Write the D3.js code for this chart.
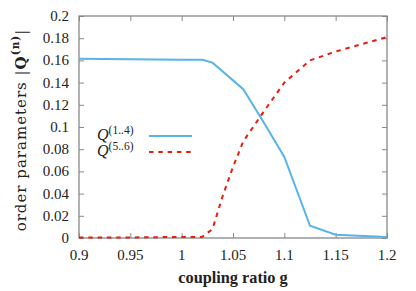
<!DOCTYPE html>
<html>
<head>
<meta charset="utf-8">
<script src="https://cdn.jsdelivr.net/npm/d3@7"></script>
<style>
  body { margin: 0; background: #fff; }
  text { font-family: "Liberation Serif", "DejaVu Serif", serif; }
</style>
</head>
<body>
<svg id="chart" width="416" height="291"></svg>
<script>
// coupling ratio g
const gValues = [0.9, 0.95, 1.0, 1.02, 1.03, 1.04, 1.05, 1.06, 1.08, 1.1, 1.125, 1.15, 1.2];
// |Q(1..4)|
const q14 = [0.1615, 0.161, 0.1605, 0.1605, 0.158, 0.150, 0.142, 0.134, 0.104, 0.073, 0.011, 0.003, 0.001];
// |Q(5..6)|
const q56 = [0.0005, 0.0005, 0.001, 0.001, 0.008, 0.038, 0.064, 0.087, 0.114, 0.14, 0.16, 0.168, 0.181];

const xTicks = [0.9, 0.95, 1, 1.05, 1.1, 1.15, 1.2];
const yTicks = [0, 0.02, 0.04, 0.06, 0.08, 0.1, 0.12, 0.14, 0.16, 0.18, 0.2];

const W = 416, H = 291;
const m = { top: 16, right: 29, bottom: 53, left: 79 };

const svg = d3.select("#chart");

const x = d3.scaleLinear().domain([0.9, 1.2]).range([m.left, W - m.right]);
const y = d3.scaleLinear().domain([0, 0.2]).range([H - m.bottom, m.top]);

const axisColor = "#888";
const fmt = d => String(+d.toFixed(2));

// ticks on all four sides, pointing inward
const gBottom = svg.append("g").attr("transform", `translate(0,${H - m.bottom})`)
  .call(d3.axisTop(x).tickValues(xTicks).tickSize(5).tickFormat(""));
const gTop = svg.append("g").attr("transform", `translate(0,${m.top})`)
  .call(d3.axisBottom(x).tickValues(xTicks).tickSize(5).tickFormat(""));
const gLeft = svg.append("g").attr("transform", `translate(${m.left},0)`)
  .call(d3.axisRight(y).tickValues(yTicks).tickSize(5).tickFormat(""));
const gRight = svg.append("g").attr("transform", `translate(${W - m.right},0)`)
  .call(d3.axisLeft(y).tickValues(yTicks).tickSize(5).tickFormat(""));
[gBottom, gTop, gLeft, gRight].forEach(g => {
  g.selectAll(".domain").remove();
  g.selectAll("line").attr("stroke", axisColor).attr("stroke-width", 1);
});

// tick labels
svg.append("g").selectAll("text").data(xTicks).join("text")
  .attr("x", d => x(d)).attr("y", H - m.bottom + 22)
  .attr("text-anchor", "middle").attr("font-size", 15).attr("fill", "#222")
  .text(fmt);
svg.append("g").selectAll("text").data(yTicks).join("text")
  .attr("x", m.left - 10).attr("y", d => y(d) + 5)
  .attr("text-anchor", "end").attr("font-size", 15).attr("fill", "#222")
  .text(fmt);

// frame
svg.append("rect")
  .attr("x", m.left).attr("y", m.top)
  .attr("width", W - m.left - m.right).attr("height", H - m.top - m.bottom)
  .attr("fill", "none").attr("stroke", axisColor).attr("stroke-width", 1.3);

const line = d3.line().x(d => x(d[0])).y(d => y(d[1]));

svg.append("path")
  .datum(gValues.map((g, i) => [g, q14[i]]))
  .attr("d", line).attr("fill", "none")
  .attr("stroke", "#56b4e9").attr("stroke-width", 2);

svg.append("path")
  .datum(gValues.map((g, i) => [g, q56[i]]))
  .attr("d", line).attr("fill", "none")
  .attr("stroke", "#e51e10").attr("stroke-width", 2)
  .attr("stroke-dasharray", "4.5,4.8");

// legend
const leg = svg.append("g");
const legItems = [
  { lab: "(1..4)", color: "#56b4e9", dash: null, yy: 136 },
  { lab: "(5..6)", color: "#e51e10", dash: "4.5,4.8", yy: 152 }
];
legItems.forEach(it => {
  const t = leg.append("text").attr("x", 97).attr("y", it.yy + 4)
    .attr("font-size", 16).attr("fill", "#222");
  t.append("tspan").attr("font-style", "italic").text("Q");
  t.append("tspan").attr("font-size", 11.5).attr("dy", -6).text(it.lab);
  leg.append("line")
    .attr("x1", 149).attr("x2", 192).attr("y1", it.yy).attr("y2", it.yy)
    .attr("stroke", it.color).attr("stroke-width", 2)
    .attr("stroke-dasharray", it.dash);
});

// axis titles
svg.append("text")
  .attr("x", (m.left + W - m.right) / 2).attr("y", H - 8)
  .attr("text-anchor", "middle").attr("font-size", 16.3).attr("font-weight", "bold")
  .attr("fill", "#222").text("coupling ratio g");

const yl = svg.append("text")
  .attr("transform", `translate(26,${(m.top + H - m.bottom) / 2 + 3}) rotate(-90)`)
  .attr("text-anchor", "middle").attr("font-size", 15)
  .style("font-family", "'DejaVu Serif', serif")
  .attr("fill", "#222");
yl.append("tspan").text("order parameters |");
yl.append("tspan").attr("font-weight", "bold").text("Q");
yl.append("tspan").attr("font-weight", "bold").attr("font-size", 10.5)
  .attr("dy", -7).text("(n)");
yl.append("tspan").attr("dy", 7).text("|");
// nudge the spacing so the label spans what it does in the picture
const target = 210;
const len = yl.node().getComputedTextLength();
yl.attr("letter-spacing", Math.max(-0.6, Math.min(1, (target - len) / 23)));
</script>
</body>
</html>
